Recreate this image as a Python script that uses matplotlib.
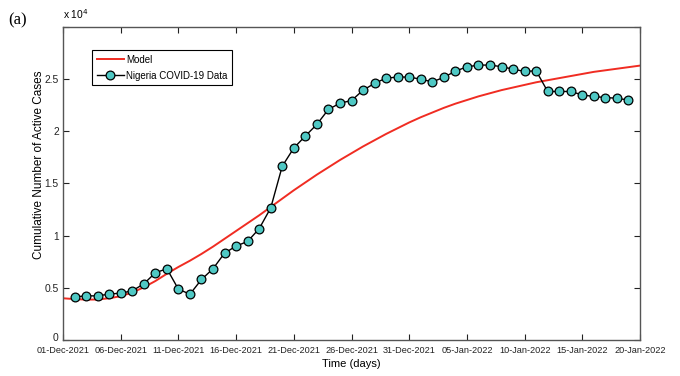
import datetime as dt
import matplotlib
matplotlib.use('Agg')
import matplotlib.pyplot as plt
import matplotlib.dates as mdates
import matplotlib.transforms as mtransforms

# Model curve, one value per day from 01-Dec-2021 to 20-Jan-2022 (x 10^4 -> in thousands)
model_k = [4.00, 3.92, 3.87, 3.88, 4.00, 4.20, 4.55, 5.05, 5.65, 6.35,
           7.00, 7.60, 8.25, 8.95, 9.70, 10.45, 11.20, 11.95, 12.75, 13.55,
           14.35, 15.10, 15.85, 16.55, 17.25, 17.90, 18.55, 19.15, 19.75, 20.30,
           20.85, 21.35, 21.80, 22.25, 22.65, 23.00, 23.35, 23.65, 23.95, 24.20,
           24.45, 24.70, 24.90, 25.10, 25.30, 25.50, 25.70, 25.85, 26.00, 26.15,
           26.30]

# Nigeria data, 02-Dec-2021 to 19-Jan-2022 (thousands)
data_k = [4.13, 4.23, 4.23, 4.40, 4.49, 4.71, 5.38, 6.44, 6.83, 4.87,
          4.39, 5.80, 6.83, 8.33, 9.00, 9.45, 10.67, 12.66, 16.66, 18.40,
          19.55, 20.67, 22.10, 22.70, 22.95, 23.94, 24.60, 25.10, 25.20, 25.20,
          25.00, 24.74, 25.17, 25.77, 26.18, 26.35, 26.35, 26.20, 25.96, 25.74,
          25.80, 23.82, 23.82, 23.82, 23.49, 23.34, 23.24, 23.17, 23.00]

start = dt.date(2021, 12, 1)
model_dates = [start + dt.timedelta(days=i) for i in range(len(model_k))]
data_dates = [start + dt.timedelta(days=i + 1) for i in range(len(data_k))]
model = [v * 1000 for v in model_k]
data = [v * 1000 for v in data_k]

y_ticks = [0, 5000, 10000, 15000, 20000, 25000, 30000]
y_labels = ['0', '0.5', '1', '1.5', '2', '2.5', '']

plt.rcParams['font.family'] = ['Liberation Sans', 'DejaVu Sans']

fig = plt.figure(figsize=(6.8, 3.76), dpi=100)
ax = fig.add_axes([63 / 680, 36 / 376, 577 / 680, 313 / 376])

ax.plot(model_dates, model, color='#f02c22', lw=1.4, label='Model', zorder=2)
ax.plot(data_dates, data, color='black', lw=1.0, marker='o', ms=6.3,
        mfc='#4fc8c4', mec='black', mew=0.9, label='Nigeria COVID-19 Data', zorder=3)

ax.set_xlim(dt.date(2021, 12, 1), dt.date(2022, 1, 20))
ax.set_ylim(0, 30000)
xt = [start + dt.timedelta(days=5 * i) for i in range(11)]
ax.set_xticks(xt)
ax.xaxis.set_major_formatter(mdates.DateFormatter('%d-%b-%Y'))
ax.set_yticks(y_ticks)
ax.set_yticklabels(y_labels)
ax.tick_params(direction='in', length=4, width=0.8, top=True, right=True,
               colors='#222222')
ax.tick_params(axis='x', labelsize=6.6, pad=4)
ax.tick_params(axis='y', labelsize=7.4, pad=3)
for s in ax.spines.values():
    s.set_color('#555555')
    s.set_linewidth(1.0)

# nudge the "0" label up a little so it clears the first date label
zero_lbl = ax.get_yticklabels()[0]
zero_lbl.set_transform(zero_lbl.get_transform() +
                       mtransforms.ScaledTranslation(0, 2 / 72, fig.dpi_scale_trans))

ax.set_xlabel('Time (days)', fontsize=8, labelpad=3)
ax.set_ylabel('Cumulative Number of Active Cases', fontsize=8.5)
ax.yaxis.set_label_coords(-0.032, 0.56)

ax.text(0.0, 1.02, 'x 10$^4$', transform=ax.transAxes, fontsize=7.4, va='bottom')
fig.text(8 / 680, 1 - 20 / 376, '(a)', fontsize=12, family=['Liberation Serif', 'DejaVu Serif'],
         va='center')

leg = ax.legend(loc='upper left', bbox_to_anchor=(0.050, 0.927), borderaxespad=0,
                fontsize=7, frameon=True, fancybox=False, edgecolor='black',
                framealpha=1, handlelength=2.8, handletextpad=0.2, labelspacing=0.6,
                borderpad=0.5)
leg.get_frame().set_linewidth(0.8)

fig.savefig('out.png', dpi=100)
